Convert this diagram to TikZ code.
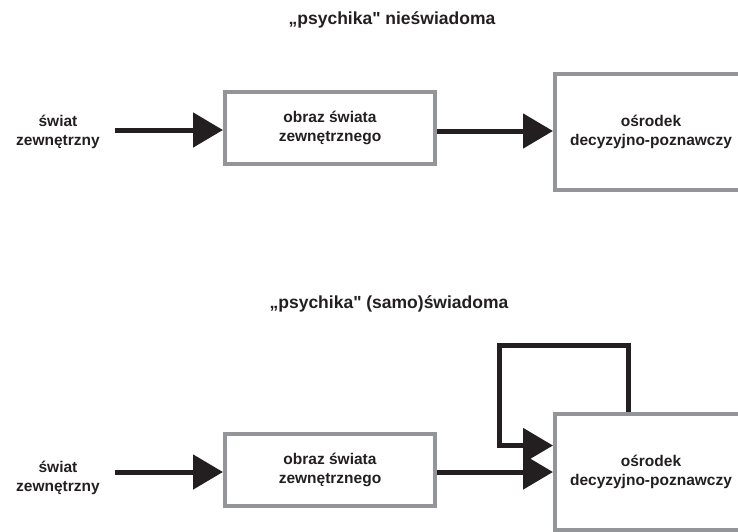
\documentclass[tikz,border=0pt]{standalone}
\usepackage{fontspec}
\setmainfont{Liberation Sans}
\newfontfamily\tytulfont{Liberation Sans}
\usetikzlibrary{arrows.meta}
\definecolor{ramka}{HTML}{939598}
\definecolor{czern}{HTML}{231F20}

\begin{document}
\begin{tikzpicture}[x=1pt,y=-1pt,
        blok/.style={draw=ramka, line width=4pt, minimum width=210pt,
            minimum height=72pt, inner sep=0pt, align=center, text=czern,
            font=\bfseries\fontsize{15.5}{19}\selectfont},
        duzy/.style={blok, minimum width=192pt, minimum height=116pt},
        opis/.style={align=center, text=czern,
            font=\bfseries\fontsize{15.5}{19}\selectfont},
        tytul/.style={text=czern, font=\tytulfont\bfseries\fontsize{17.5}{20}\selectfont},
        strzalka/.style={draw=czern, line width=5pt,
            -{Triangle[length=30pt,width=34pt]}}]
        \useasboundingbox (0,0) rectangle (738,531);

        % nieswiadoma
        \node[tytul] (tyt1) at (392,20) {„psychika" nieświadoma};
        \node[opis] (swiat1) at (58,132) {świat\\zewnętrzny};
        \node[blok] (obraz1) at (330,128) {obraz świata\\zewnętrznego};
        \node[duzy] (osrodek1) at (651,132) {ośrodek\\decyzyjno-poznawczy};
        \coordinate (wej1) at (115,130);

        \draw[strzalka] (wej1) -- (wej1 -| obraz1.west);
        \draw[strzalka] ([yshift=-3pt]obraz1.east) -- ([yshift=-3pt]obraz1.east -| osrodek1.west);

        % (samo)swiadoma
        \node[tytul] (tyt2) at (389,304) {„psychika" (samo)świadoma};
        \node[opis] (swiat2) at (58,478) {świat\\zewnętrzny};
        \node[blok] (obraz2) at (330,470) {obraz świata\\zewnętrznego};
        \node[duzy] (osrodek2) at (651,471.5) {ośrodek\\decyzyjno-poznawczy};
        \coordinate (wej2) at (115,472);
        \coordinate (petlaP) at (628,345);
        \coordinate (petlaL) at (499,345);

        \draw[strzalka] (wej2) -- (wej2 -| obraz2.west);
        \draw[strzalka] ([yshift=-2pt]obraz2.east) -- ([yshift=-2pt]obraz2.east -| osrodek2.west);
        \draw[strzalka] (osrodek2.north -| petlaP) -- (petlaP) -- (petlaL) |- ([yshift=26pt]osrodek2.west);

    \end{tikzpicture}
\end{document}
